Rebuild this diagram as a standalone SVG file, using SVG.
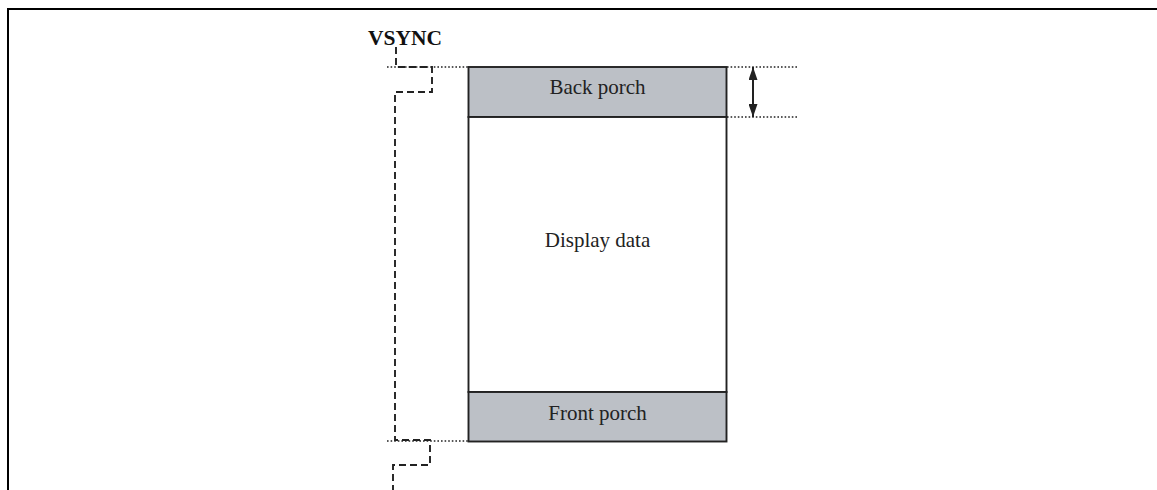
<svg xmlns="http://www.w3.org/2000/svg" width="1157" height="490" viewBox="0 0 1157 490">
  <style>
    .frame { fill: none; stroke: #000; stroke-width: 2; }
    .box { stroke: #222; stroke-width: 1.9; }
    .porch { fill: #bcc0c6; }
    .data { fill: #fff; }
    .lbl { font-family: "Liberation Serif", "Times New Roman", serif; font-size: 21px; fill: #222; text-anchor: middle; }
    .sig { font-family: "Liberation Serif", "Times New Roman", serif; font-size: 21.5px; font-weight: bold; fill: #111; }
    .dash { fill: none; stroke: #222; stroke-width: 1.9; stroke-dasharray: 7 4; }
    .dot { fill: none; stroke: #222; stroke-width: 1.6; stroke-dasharray: 1.6 2; }
    .dim { fill: none; stroke: #222; stroke-width: 2; }
  </style>
  <defs>
    <marker id="ah" viewBox="0 0 13 9" refX="13" refY="4.5" markerWidth="13" markerHeight="9" orient="auto-start-reverse" markerUnits="userSpaceOnUse">
      <path d="M0,0 L13,4.5 L0,9 z" fill="#222"/>
    </marker>
  </defs>

  <rect width="1157" height="490" fill="#fff"/>

  <!-- outer frame -->
  <polyline class="frame" points="8,490 8,9 1157,9"/>

  <!-- signal label -->
  <text id="vsync-label" class="sig" x="368" y="45">VSYNC</text>

  <!-- frame regions -->
  <g id="back-porch">
    <rect class="box porch" x="468.5" y="67" width="258" height="50"/>
    <text class="lbl" x="597.5" y="94">Back porch</text>
  </g>
  <g id="display-data">
    <rect class="box data" x="468.5" y="117" width="258" height="275"/>
    <text class="lbl" x="597.5" y="247">Display data</text>
  </g>
  <g id="front-porch">
    <rect class="box porch" x="468.5" y="392" width="258" height="49.5"/>
    <text class="lbl" x="597.5" y="420">Front porch</text>
  </g>

  <g id="connectors">
    <!-- VSYNC waveform -->
    <polyline class="dash" points="396,47 396,67 432,67 432,92 395,92 395,440 430,440 430,465 393,465 393,490"/>
    <!-- guide lines -->
    <line class="dot" x1="387" y1="67" x2="468" y2="67"/>
    <line class="dot" x1="387" y1="441" x2="468" y2="441"/>
    <line class="dot" x1="727" y1="67" x2="798" y2="67"/>
    <line class="dot" x1="727" y1="117" x2="798" y2="117"/>
    <!-- back porch height -->
    <line class="dim" x1="753" y1="67" x2="753" y2="117" marker-start="url(#ah)" marker-end="url(#ah)"/>
  </g>
</svg>
